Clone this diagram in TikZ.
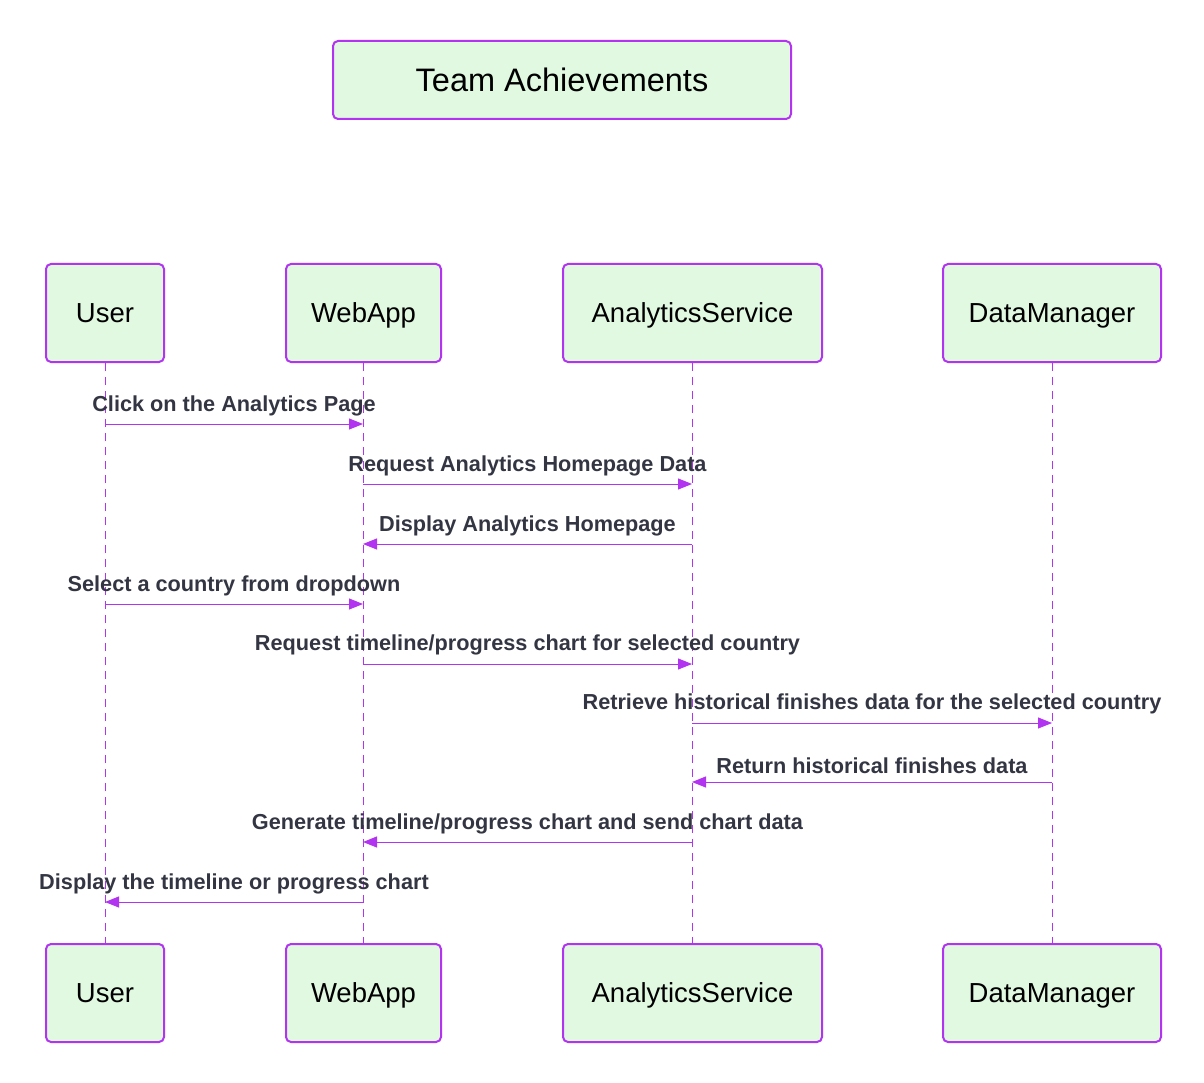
\documentclass[tikz,border=0pt]{standalone}
\usepackage{fontspec}
\setmainfont{Liberation Sans}
\usetikzlibrary{arrows.meta}
\definecolor{pline}{RGB}{178,52,240}
\definecolor{pfill}{RGB}{225,249,225}
\definecolor{ltext}{RGB}{51,54,66}
\tikzset{
  actor/.style={draw=pline, fill=pfill, line width=2pt, rounded corners=5pt,
    minimum height=98pt, text=black, font=\fontsize{27.5}{30}\selectfont, inner sep=0pt,
    text height=24pt, text depth=4.3pt},
  titlebox/.style={draw=pline, fill=pfill, line width=2pt, rounded corners=5pt,
    minimum width=458pt, minimum height=78pt, text=black, font=\fontsize{32.5}{36}\selectfont,
    inner sep=0pt, text height=28pt, text depth=4.7pt},
  lifeline/.style={draw=pline, line width=1pt, dash pattern=on 8pt off 6pt},
  msg/.style={draw=pline, line width=1pt, -{Triangle[length=14pt,width=11pt]}},
  lbl/.style={text=ltext, font=\fontsize{21.7}{25}\bfseries\selectfont, anchor=base, inner sep=0pt}
}
\begin{document}
\begin{tikzpicture}[x=1pt,y=-1pt]
\useasboundingbox (0,0) rectangle (1204,1083);
\node[titlebox] (title) at (562,80) {Team Achievements};
% top actors
\node[actor, minimum width=118pt] (u) at (105,313) {User};
\node[actor, minimum width=155pt] (w) at (363.5,313) {WebApp};
\node[actor, minimum width=259pt] (a) at (692.5,313) {AnalyticsService};
\node[actor, minimum width=218pt] (d) at (1052,313) {DataManager};
% bottom actors
\node[actor, minimum width=118pt] (ub) at (105,993) {User};
\node[actor, minimum width=155pt] (wb) at (363.5,993) {WebApp};
\node[actor, minimum width=259pt] (ab) at (692.5,993) {AnalyticsService};
\node[actor, minimum width=218pt] (db) at (1052,993) {DataManager};
% lifelines
\draw[lifeline] (u.south) -- (ub.north);
\draw[lifeline] ([xshift=-0.5pt]w.south) -- ([xshift=-0.5pt]wb.north);
\draw[lifeline] ([xshift=-0.5pt]a.south) -- ([xshift=-0.5pt]ab.north);
\draw[lifeline] (d.south) -- (db.north);
% message endpoints
\foreach \n/\y in {1/424,2/484,3/544,4/604,5/664,6/723,7/782,8/842,9/902}{
  \coordinate (u\n) at (105,\y);
  \coordinate (w\n) at (363,\y);
  \coordinate (a\n) at (692,\y);
  \coordinate (d\n) at (1052,\y);
}
\draw[msg] (u1) -- (w1);
\node[lbl] (l1) at (234,411) {Click on the Analytics Page};
\draw[msg] (w2) -- (a2);
\node[lbl] (l2) at (527.5,471) {Request Analytics Homepage Data};
\draw[msg] (a3) -- (w3);
\node[lbl] (l3) at (527.5,531) {Display Analytics Homepage};
\draw[msg] (u4) -- (w4);
\node[lbl] (l4) at (234,591) {Select a country from dropdown};
\draw[msg] (w5) -- (a5);
\node[lbl] (l5) at (527.5,650) {Request timeline/progress chart for selected country};
\draw[msg] (a6) -- (d6);
\node[lbl] (l6) at (872,709) {Retrieve historical finishes data for the selected country};
\draw[msg] (d7) -- (a7);
\node[lbl] (l7) at (872,773) {Return historical finishes data};
\draw[msg] (a8) -- (w8);
\node[lbl] (l8) at (527.5,829) {Generate timeline/progress chart and send chart data};
\draw[msg] (w9) -- (u9);
\node[lbl] (l9) at (234,889) {Display the timeline or progress chart};
\end{tikzpicture}
\end{document}
